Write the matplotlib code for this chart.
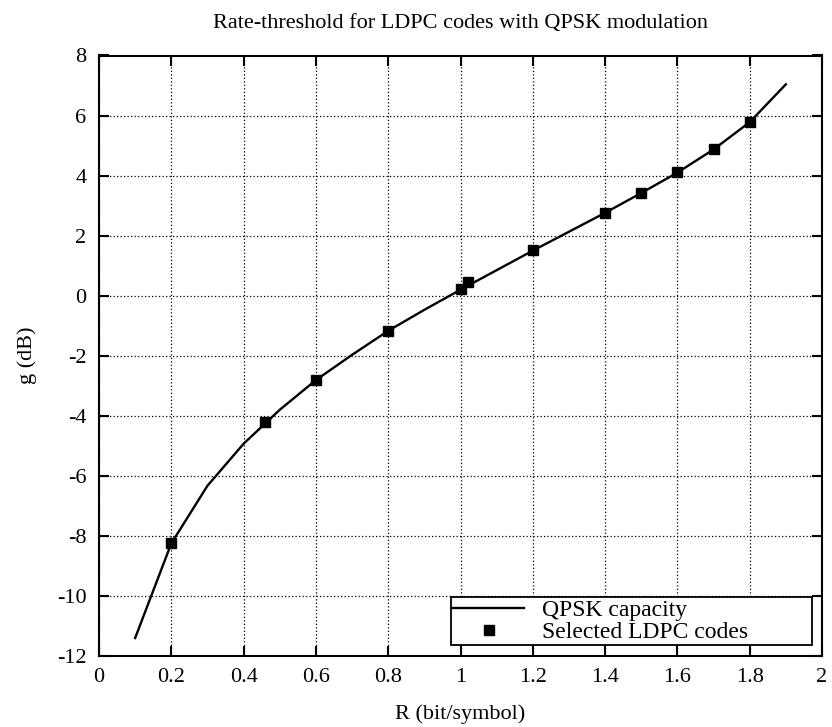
import matplotlib
matplotlib.use("Agg")
import matplotlib.pyplot as plt
import numpy as np

# QPSK capacity curve
rate = [0.1, 0.2, 0.3, 0.4, 0.5, 0.6, 0.7, 0.8, 0.9, 1.0,
        1.1, 1.2, 1.3, 1.4, 1.5, 1.6, 1.7, 1.8, 1.9]
capacity_db = [-11.4, -8.25, -6.33, -4.93, -3.8, -2.81, -1.97, -1.17, -0.47, 0.2,
               0.85, 1.5, 2.13, 2.76, 3.42, 4.1, 4.87, 5.78, 7.04]

# selected LDPC codes
code_rate = [0.2, 0.46, 0.6, 0.8, 1.0, 1.02, 1.2, 1.4, 1.5, 1.6, 1.7, 1.8]
code_db = [-8.24, -4.2, -2.81, -1.16, 0.23, 0.45, 1.51, 2.76, 3.43, 4.11, 4.87, 5.8]

xticks = np.arange(0, 2.01, 0.2)
xtick_labels = ["0", "0.2", "0.4", "0.6", "0.8", "1", "1.2", "1.4", "1.6", "1.8", "2"]
yticks = np.arange(-12, 9, 2)

plt.rcParams['font.family'] = ['Liberation Serif', 'DejaVu Serif']
plt.rcParams['font.size'] = 16
plt.rcParams['axes.unicode_minus'] = False

fig = plt.figure(figsize=(8.32, 7.27), dpi=100)
ax = fig.add_axes([99 / 832, 1 - 656 / 727, 723 / 832, 600.5 / 727])

ax.plot(rate, capacity_db, color='black', linewidth=1.7, label='QPSK capacity')
ax.plot(code_rate, code_db, linestyle='none', marker='s', markersize=7.5,
        color='black', label='Selected LDPC codes')

ax.set_xlim(0, 2)
ax.set_ylim(-12, 8)
ax.set_xticks(xticks)
ax.set_xticklabels(xtick_labels)
ax.set_yticks(yticks)
ax.tick_params(direction='in', length=7, width=1.5, top=True, right=True, pad=9)
ax.grid(True, color='black', linestyle=(0, (1.0, 1.8)), linewidth=0.9)
for s in ax.spines.values():
    s.set_linewidth(1.5)

ax.set_xlabel('R (bit/symbol)', fontsize=16, labelpad=12)
ax.set_ylabel('g (dB)', fontsize=16, labelpad=14)
ax.set_title('Rate-threshold for LDPC codes with QPSK modulation', fontsize=16, pad=20)

leg = ax.legend(loc='lower left', bbox_to_anchor=(0.487, 0.018, 0.499, 0.074),
                mode='expand', fancybox=False, framealpha=1, edgecolor='black',
                borderaxespad=0.0, handlelength=3.0, handletextpad=0.75,
                borderpad=0.1, labelspacing=0.0, fontsize=17)
leg.get_frame().set_linewidth(1.3)

fig.savefig('out.png', dpi=100)
